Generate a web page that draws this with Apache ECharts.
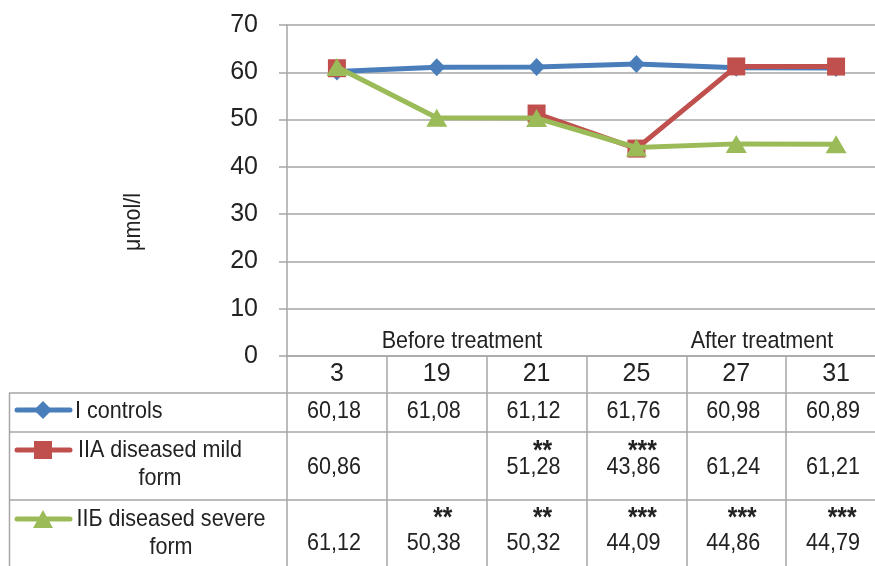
<!DOCTYPE html>
<html>
<head>
<meta charset="utf-8">
<script src="https://cdn.jsdelivr.net/npm/echarts@6/dist/echarts.min.js"></script>
<style>
  html, body { margin: 0; padding: 0; background: #fff; }
  #chart { width: 875px; height: 566px; }
</style>
</head>
<body>
<div id="chart"></div>
<script>
// Sampling days
const days = ['3', '19', '21', '25', '27', '31'];

// Series names and values (μmol/l)
const seriesNames = ['I controls', 'IIA diseased mild\nform', 'IIБ diseased severe\nform'];
const controls = [60.18, 61.08, 61.12, 61.76, 60.98, 60.89];
const mildForm = [60.86, null, 51.28, 43.86, 61.24, 61.21];
const severeForm = [61.12, 50.38, 50.32, 44.09, 44.86, 44.79];

// Significance marks shown above table values
const sigControls = ['', '', '', '', '', ''];
const sigMild = ['', '', '**', '***', '', ''];
const sigSevere = ['', '**', '**', '***', '***', '***'];

// Axis ticks and period captions
const yTicks = { min: 0, max: 70, step: 10 };
const periodLabels = ['Before treatment', 'After treatment'];
const unitLabel = 'μmol/l';

const COLORS = ['#4A7EBB', '#C0504D', '#9BBB59'];
const SYMBOLS = ['diamond', 'rect', 'triangle'];
const SYMBOL_SIZES = [[17, 18], [18, 18], [21, 18]];
const GRID_COLOR = '#A6A6A6';
const TEXT_COLOR = '#222';
const FONT = '"Liberation Sans", Arial, sans-serif';
const NARROW = '"Liberation Sans Narrow", "Arial Narrow", sans-serif';
const SX = 0.88;   // horizontal squeeze for condensed-looking text

const chart = echarts.init(document.getElementById('chart'), null, { renderer: 'canvas' });

const allSeries = [controls, mildForm, severeForm];

chart.setOption({
  animation: false,
  grid: { left: 287, top: 25, right: -11, bottom: 210, outerBoundsMode: 'none', containLabel: false },
  xAxis: {
    type: 'category',
    data: days,
    boundaryGap: true,
    axisLine: { lineStyle: { color: GRID_COLOR, width: 1.5 } },
    axisTick: { show: true, length: 215, lineStyle: { color: GRID_COLOR, width: 1.5 } },
    axisLabel: { color: TEXT_COLOR, fontSize: 25, fontFamily: NARROW, margin: 6 },
    splitLine: { show: false }
  },
  yAxis: {
    type: 'value',
    min: yTicks.min,
    max: yTicks.max,
    interval: yTicks.step,
    axisLine: { show: true, lineStyle: { color: GRID_COLOR, width: 1.5 } },
    axisTick: { show: true, length: 8, lineStyle: { color: GRID_COLOR, width: 1.5 } },
    axisLabel: { color: TEXT_COLOR, fontSize: 25, fontFamily: NARROW, margin: 29 },
    splitLine: { show: true, lineStyle: { color: GRID_COLOR, width: 1.5 } }
  },
  series: allSeries.map((vals, i) => ({
    type: 'line',
    name: seriesNames[i],
    data: vals,
    connectNulls: false,
    symbol: SYMBOLS[i],
    symbolSize: SYMBOL_SIZES[i],
    showAllSymbol: true,
    lineStyle: { color: COLORS[i], width: 5 },
    itemStyle: { color: COLORS[i], borderWidth: 0 },
    z: 2 + i
  }))
});

// Data table under the plot
const fmt = v => v == null ? '' : v.toFixed(2).replace('.', ',');
const rowLines = [393, 432, 500];            // horizontal rules of table body
const rowValueY = [411, 467, 543];           // centre of values
const rowSigY = [null, 451, 518];            // centre of significance marks
const legendY = [410, 450, 519];
const legendTextX = [75, 160, 171];
const sigs = [sigControls, sigMild, sigSevere];

const elements = [];
const lineStyle = { stroke: GRID_COLOR, lineWidth: 1.5 };

function label(text, x, y, size, opts) {
  opts = opts || {};
  return {
    type: 'text', x: x, y: y, scaleX: SX, rotation: opts.rotation || 0, silent: true,
    style: {
      text: text, fill: TEXT_COLOR, font: (opts.weight || 'normal') + ' ' + size + 'px ' + FONT,
      align: opts.align || 'center', verticalAlign: opts.verticalAlign || 'middle',
      lineHeight: opts.lineHeight
    }
  };
}

rowLines.forEach(y => {
  elements.push({ type: 'line', shape: { x1: 9, y1: y, x2: 875, y2: y }, style: lineStyle, silent: true });
});
elements.push({ type: 'line', shape: { x1: 9.5, y1: 393, x2: 9.5, y2: 566 }, style: lineStyle, silent: true });

allSeries.forEach((vals, r) => {
  vals.forEach((v, c) => {
    const x = chart.convertToPixel({ xAxisIndex: 0 }, c);
    elements.push(label(fmt(v), x - 3, rowValueY[r], 24.5));
    const s = sigs[r][c];
    if (s) elements.push(label(s, x + 6, rowSigY[r], 28, { weight: 'bold' }));
  });

  // Legend key: line with marker
  elements.push({ type: 'line', shape: { x1: 17, y1: legendY[r], x2: 70, y2: legendY[r] },
    style: { stroke: COLORS[r], lineWidth: 5, lineCap: 'round' }, silent: true });
  const mx = 43, my = legendY[r];
  let marker;
  if (r === 0) {
    marker = { type: 'polygon', shape: { points: [[mx, my - 9], [mx + 9, my], [mx, my + 9], [mx - 9, my]] } };
  } else if (r === 1) {
    marker = { type: 'rect', shape: { x: mx - 9, y: my - 9, width: 18, height: 18 } };
  } else {
    marker = { type: 'polygon', shape: { points: [[mx, my - 9], [mx + 10, my + 9], [mx - 10, my + 9]] } };
  }
  marker.style = { fill: COLORS[r] };
  marker.silent = true;
  elements.push(marker);

  const multi = seriesNames[r].indexOf('\n') >= 0;
  elements.push(multi
    ? label(seriesNames[r], legendTextX[r], legendY[r] - 14, 24.5, { verticalAlign: 'top', lineHeight: 28 })
    : label(seriesNames[r], legendTextX[r], legendY[r] + 1, 24.5, { align: 'left' }));
});

// Period captions above the day row
elements.push(label(periodLabels[0], 462, 341, 24.5));
elements.push(label(periodLabels[1], 762, 341, 24.5));

// Unit caption, rotated
elements.push(label(unitLabel, 133, 222, 24.5, { rotation: Math.PI / 2 }));

chart.setOption({ graphic: { elements } });
</script>
</body>
</html>
